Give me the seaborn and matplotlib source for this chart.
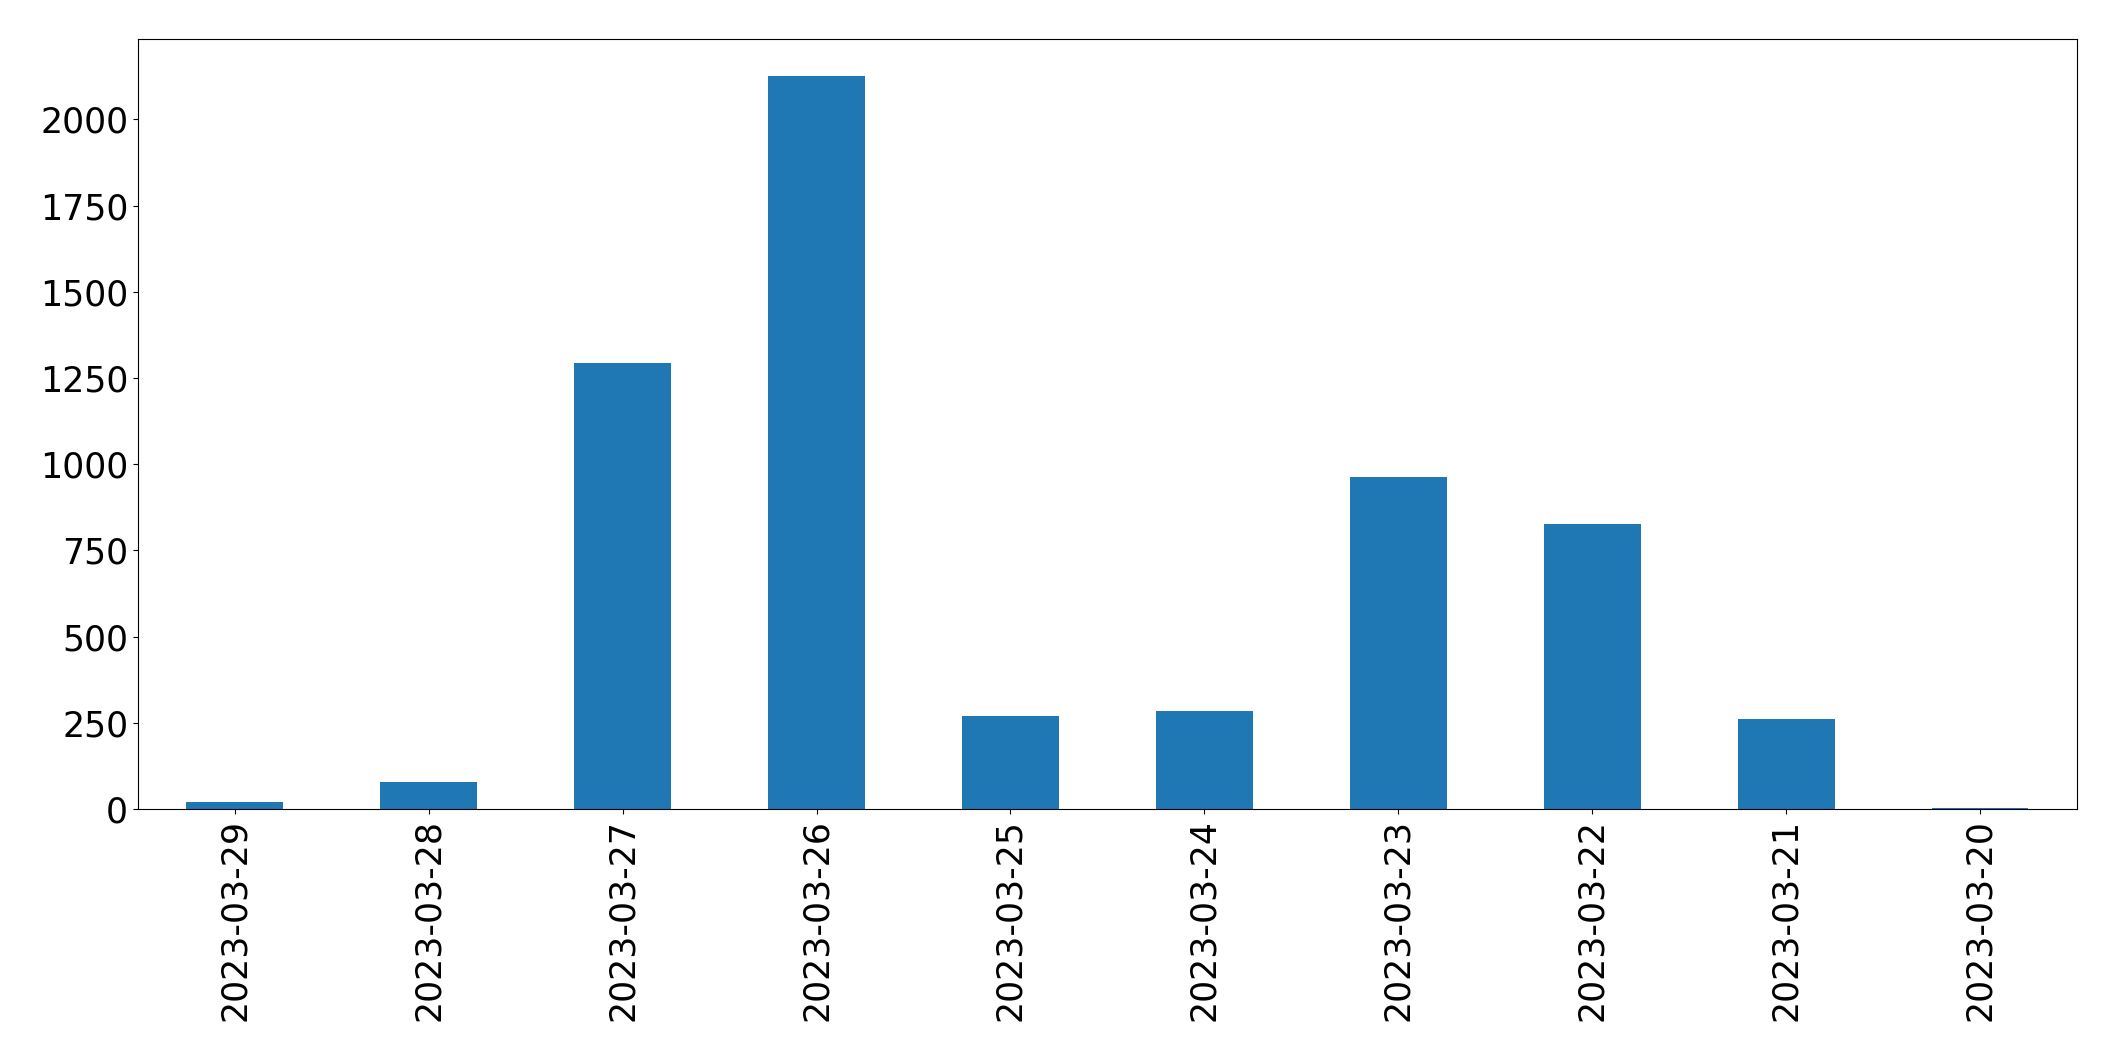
import matplotlib
matplotlib.use("Agg")
import pandas as pd
import matplotlib.pyplot as plt
import seaborn as sns

# daily counts, newest first (as in the reference)
dates = ["2023-03-29", "2023-03-28", "2023-03-27", "2023-03-26", "2023-03-25",
         "2023-03-24", "2023-03-23", "2023-03-22", "2023-03-21", "2023-03-20"]
counts = [21, 79, 1293, 2126, 270, 284, 963, 826, 261, 3]

df = pd.DataFrame({"date": dates, "count": counts})

fig = plt.figure(figsize=(21.15, 10.61), dpi=100)
ax = fig.add_axes([0.0652, 0.2375, 0.9168, 0.7255])
sns.barplot(data=df, x="date", y="count", order=dates, color="#1f77b4",
            saturation=1, width=0.5, ax=ax)

ax.set_xlabel("")
ax.set_ylabel("")
ax.set_xlim(-0.5, len(dates) - 0.5)
ax.set_ylim(0, max(counts) * 1.05)
ax.tick_params(axis="both", labelsize=25)
ax.tick_params(axis="x", labelrotation=90)

fig.savefig("out.png", dpi=100)
